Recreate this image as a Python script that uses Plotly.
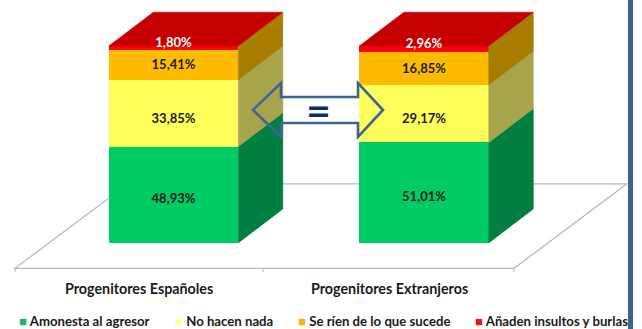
import plotly.graph_objects as go

categories = ["Progenitores Españoles", "Progenitores Extranjeros"]
series_names = ["Amonesta al agresor", "No hacen nada", "Se ríen de lo que sucede", "Añaden insultos y burlas"]
amonesta = [48.93, 51.01]
no_hacen = [33.85, 29.17]
se_rien = [15.41, 16.85]
insultos = [1.80, 2.96]
series_values = [amonesta, no_hacen, se_rien, insultos]

front_colors = ["#00cc66", "#ffff5c", "#ffbb00", "#fa0505"]
side_colors = ["#007f40", "#a8a44c", "#a67d00", "#a67d00"]
top_color = "#c40000"
legend_colors = ["#1fb56b", "#ffff8c", "#f2b714", "#e01b1b"]
label_colors = ["#1a1a1a", "#1a1a1a", "#1a1a1a", "#ffffff"]
label_shift = [-2.5, -3.2, -0.5, 2.0]

W, H = 642, 329
BAR_W = 0.517
DX = 0.178   # depth, x units
DY = 17.2    # depth, y units
FONT = "Lato"
X_RANGE = [-0.6926, 1.8703]
Y_RANGE = [-43.7, 123.35]
FLOOR_X = [-0.6327, 0.3573, 1.3593]
FLOOR_Y = -12.9
FLOOR_DX = 0.451
FLOOR_DY = 42.9
LINE = "#b5b5b5"

fig = go.Figure()
xs = list(range(len(categories)))

for values, color in zip(series_values, front_colors):
    fig.add_trace(go.Bar(x=xs, y=values, width=BAR_W, marker=dict(color=color, line=dict(width=0)),
                         showlegend=False, hoverinfo="skip"))

# side and top faces, built from the stacked values
for i in xs:
    base = 0.0
    right = i + BAR_W / 2
    left = i - BAR_W / 2
    for values, color in zip(series_values, side_colors):
        t = base + values[i]
        fig.add_trace(go.Scatter(
            x=[right, right + DX, right + DX, right, right],
            y=[base, base + DY, t + DY, t, base],
            mode="lines", fill="toself", fillcolor=color, line=dict(width=0.5, color=color),
            showlegend=False, hoverinfo="skip"))
        base = t
    fig.add_trace(go.Scatter(
        x=[left, right, right + DX, left + DX, left],
        y=[base, base, base + DY, base + DY, base],
        mode="lines", fill="toself", fillcolor=top_color, line=dict(width=0.5, color=top_color),
        showlegend=False, hoverinfo="skip"))

# value labels
for s, values in enumerate(series_values):
    ys = []
    for i in xs:
        below = sum(series_values[k][i] for k in range(s))
        ys.append(below + values[i] / 2 + label_shift[s])
    fig.add_trace(go.Scatter(
        x=xs, y=ys, mode="text",
        text=[f"{v:.2f}%".replace(".", ",") for v in values],
        textfont=dict(family=FONT, size=13, color=label_colors[s], weight="bold"),
        showlegend=False, hoverinfo="skip"))

def px(x):
    return x / W

def py(y):
    return 1 - y / H

# floor parallelogram behind the bars, on the data axes
fx0, fx2 = FLOOR_X[0], FLOOR_X[2]
floor_path = (f"M {fx0} {FLOOR_Y} L {fx2} {FLOOR_Y} L {fx2 + FLOOR_DX} {FLOOR_Y + FLOOR_DY} "
              f"L {fx0 + FLOOR_DX} {FLOOR_Y + FLOOR_DY} Z")
shapes = [dict(type="path", xref="x", yref="y", layer="below", path=floor_path,
               line=dict(color=LINE, width=1.2))]
for x0 in FLOOR_X:
    shapes.append(dict(type="line", xref="x", yref="y", layer="below",
                       x0=x0, x1=x0, y0=FLOOR_Y, y1=FLOOR_Y - 2, line=dict(color=LINE, width=1)))

arrow = [(253, 110), (281, 83), (281, 97), (358, 97), (358, 83), (383, 110),
         (358, 137), (358, 123), (281, 123), (281, 137)]
shapes += [
    dict(type="path", xref="paper", yref="paper", layer="above",
         path="M " + " L ".join(f"{px(a)} {py(b)}" for a, b in arrow) + " Z",
         line=dict(color="#3b6499", width=2.6)),
    dict(type="line", xref="paper", yref="paper", layer="above",
         x0=px(630.5), x1=px(630.5), y0=0, y1=1,
         line=dict(color="#3a6298", width=5)),
]

annotations = [dict(xref="paper", yref="paper", x=px(318), y=py(111),
                    text="=", showarrow=False,
                    font=dict(family="DejaVu Sans", size=30, color="#0b2a6f", weight="bold"))]

legend_x = [17.4, 173.4, 296.4, 473.4]
for name, color, lx in zip(series_names, legend_colors, legend_x):
    annotations.append(dict(
        xref="paper", yref="paper", x=px(lx), y=py(321),
        xanchor="left", yanchor="middle", showarrow=False,
        text=f'<span style="color:{color}">■</span> {name}',
        font=dict(family=FONT, size=13.2, color="#1a1a1a", weight="bold")))

for cat, cx in zip(categories, [139, 389.5]):
    annotations.append(dict(
        xref="paper", yref="paper", x=px(cx), y=py(288),
        xanchor="center", yanchor="middle", showarrow=False, text=cat,
        font=dict(family=FONT, size=14.3, color="#1a1a1a", weight="bold")))

fig.update_layout(
    width=W, height=H, autosize=False, barmode="stack", bargap=0,
    margin=dict(l=0, r=0, t=0, b=0),
    paper_bgcolor="white", plot_bgcolor="white", showlegend=False,
    font=dict(family=FONT),
    xaxis=dict(range=X_RANGE, visible=False),
    yaxis=dict(range=Y_RANGE, visible=False),
    shapes=shapes, annotations=annotations,
)

fig.write_html("out.html", config=dict(displayModeBar=False),
               post_script="document.body.style.margin='0';document.documentElement.style.overflow='hidden';")
